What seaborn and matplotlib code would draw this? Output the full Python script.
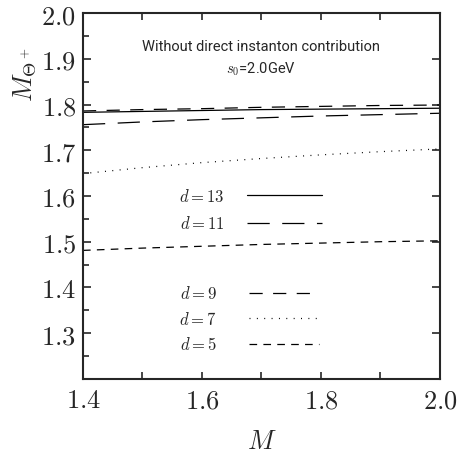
import numpy as np
import pandas as pd
import seaborn as sns
import matplotlib.pyplot as plt
from matplotlib.ticker import MultipleLocator, FuncFormatter

# data
M = [1.4, 1.5, 1.6, 1.7, 1.8, 1.9, 2.0]
d13 = [1.783, 1.785, 1.787, 1.789, 1.790, 1.791, 1.792]
d11 = [1.756, 1.762, 1.767, 1.771, 1.775, 1.778, 1.781]
d9 = [1.786, 1.789, 1.791, 1.794, 1.796, 1.798, 1.799]
d7 = [1.649, 1.662, 1.673, 1.682, 1.690, 1.697, 1.703]
d5 = [1.481, 1.486, 1.490, 1.494, 1.497, 1.500, 1.502]

curves = {"13": d13, "11": d11, "9": d9, "7": d7, "5": d5}
rows = []
for d, vals in curves.items():
    for m, v in zip(M, vals):
        rows.append({"M": m, "mass": v, "d": d})
df = pd.DataFrame(rows)

sns.set_style("ticks")
plt.rcParams["mathtext.fontset"] = "cm"
plt.rcParams["lines.scale_dashes"] = False

fig = plt.figure(figsize=(4.57, 4.56), dpi=100)
ax = fig.add_axes([0.1816, 0.167, 0.7812, 0.802])

dashes = {"13": "", "11": (16, 9), "9": (9.5, 7.5), "7": (0.7, 4.6), "5": (5.5, 4.5)}
order = ["13", "11", "9", "7", "5"]
sns.lineplot(data=df, x="M", y="mass", hue="d", style="d", hue_order=order,
             style_order=order, dashes=dashes, palette=["black"] * 5,
             linewidth=0.9, legend=False, ax=ax)

ax.set_xlim(1.4, 2.0)
ax.set_ylim(1.2, 2.0)
ax.xaxis.set_major_locator(MultipleLocator(0.2))
ax.xaxis.set_minor_locator(MultipleLocator(0.1))
ax.yaxis.set_major_locator(MultipleLocator(0.1))
ax.yaxis.set_minor_locator(MultipleLocator(0.05))
ax.xaxis.set_major_formatter(FuncFormatter(lambda v, p: "$%.1f$" % v))
ax.yaxis.set_major_formatter(FuncFormatter(lambda v, p: "" if v < 1.25 else "$%.1f$" % v))
ax.tick_params(which="both", direction="in", top=True, right=True, width=1.2,
               labelsize=19)
ax.tick_params(axis="x", which="both", length=5, pad=6)
ax.tick_params(axis="y", which="major", length=6, pad=5)
ax.tick_params(axis="y", which="minor", length=4, right=False)
for s in ax.spines.values():
    s.set_linewidth(1.5)

ax.set_xlabel("$M$", fontsize=19)
ax.xaxis.set_label_coords(0.5, -0.135)
ax.set_ylabel(r"$M_{\Theta^+}$", fontsize=19)
ax.yaxis.set_label_coords(-0.125, 0.835)

ax.text(0.5, 0.91, "Without direct instanton contribution", transform=ax.transAxes,
        ha="center", va="center", fontsize=10.5, family=["Roboto", "DejaVu Sans"])
ax.text(0.5, 0.85, r"$s_0$=2.0GeV", transform=ax.transAxes,
        ha="center", va="center", fontsize=10.5, family=["Roboto", "DejaVu Sans"])

lines = ax.get_lines()
labels = ["$d = %s$" % d for d in order]
leg1 = ax.legend(lines[:2], labels[:2], loc="center left",
                 bbox_to_anchor=(0.27, 0.462), frameon=False, markerfirst=False,
                 fontsize=12, handlelength=4.5, handletextpad=1.35,
                 labelspacing=0.55, borderpad=0, borderaxespad=0)
ax.add_artist(leg1)
ax.legend(lines[2:], labels[2:], loc="center left",
          bbox_to_anchor=(0.27, 0.164), frameon=False, markerfirst=False,
          fontsize=12, handlelength=4.2, handletextpad=1.95,
          labelspacing=0.45, borderpad=0, borderaxespad=0)

fig.savefig("out.png", dpi=100)
